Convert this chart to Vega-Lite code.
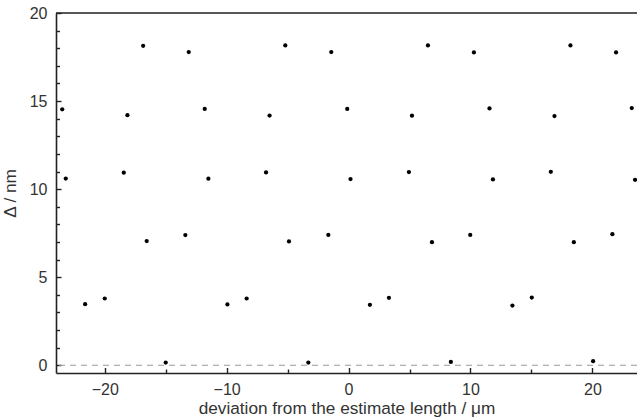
{
  "$schema": "https://vega.github.io/schema/vega-lite/v6.json",
  "width": 581,
  "height": 360,
  "autosize": {"type": "none"},
  "padding": {"left": 56, "top": 13, "right": 0, "bottom": 45},
  "background": "white",
  "config": {
    "view": {"stroke": null},
    "font": "Liberation Sans",
    "axis": {
      "labelFont": "Liberation Sans",
      "titleFont": "Liberation Sans",
      "labelColor": "#333333",
      "titleColor": "#333333",
      "labelFontSize": 16,
      "titleFontSize": 17.2,
      "titleFontWeight": "normal",
      "domainColor": "#222222",
      "domainWidth": 1.6,
      "tickColor": "#222222",
      "tickWidth": 1.4,
      "grid": false,
      "labelOverlap": false,
      "labelBound": false
    }
  },
  "datasets": {
    "pts": [
      {"x": -16.85, "y": 18.14}, {"x": -13.11, "y": 17.78}, {"x": -5.19, "y": 18.16}, {"x": -1.42, "y": 17.78},
      {"x": 6.51, "y": 18.16}, {"x": 10.28, "y": 17.76}, {"x": 18.2, "y": 18.16}, {"x": 21.94, "y": 17.76},
      {"x": -23.49, "y": 14.53}, {"x": -18.14, "y": 14.2}, {"x": -11.8, "y": 14.55}, {"x": -6.48, "y": 14.18},
      {"x": -0.11, "y": 14.55}, {"x": 5.2, "y": 14.17}, {"x": 11.56, "y": 14.58}, {"x": 16.89, "y": 14.15}, {"x": 23.23, "y": 14.6},
      {"x": -23.2, "y": 10.6}, {"x": -18.44, "y": 10.93}, {"x": -11.5, "y": 10.59}, {"x": -6.77, "y": 10.95},
      {"x": 0.16, "y": 10.57}, {"x": 4.95, "y": 10.97}, {"x": 11.84, "y": 10.55}, {"x": 16.59, "y": 10.98}, {"x": 23.5, "y": 10.53},
      {"x": -16.56, "y": 7.05}, {"x": -13.39, "y": 7.39}, {"x": -4.89, "y": 7.03}, {"x": -1.66, "y": 7.4},
      {"x": 6.84, "y": 6.99}, {"x": 9.98, "y": 7.4}, {"x": 18.48, "y": 6.99}, {"x": 21.64, "y": 7.44},
      {"x": -21.61, "y": 3.47}, {"x": -20.0, "y": 3.79}, {"x": -9.94, "y": 3.45}, {"x": -8.36, "y": 3.79},
      {"x": 1.75, "y": 3.43}, {"x": 3.31, "y": 3.83}, {"x": 13.44, "y": 3.39}, {"x": 15.03, "y": 3.84},
      {"x": -15.0, "y": 0.15}, {"x": -3.3, "y": 0.15}, {"x": 8.39, "y": 0.19}, {"x": 20.06, "y": 0.23}
    ],
    "lines": [{"y": 0, "kind": "zero"}, {"y": 20, "kind": "frame"}]
  },
  "encoding": {
    "y": {
      "field": "y", "type": "quantitative",
      "scale": {"domain": [-0.44, 20], "nice": false, "zero": false},
      "axis": {
        "title": "Δ / nm",
        "values": [0, 1, 2, 3, 4, 5, 6, 7, 8, 9, 10, 11, 12, 13, 14, 15, 16, 17, 18, 19, 20],
        "labelExpr": "datum.value % 5 === 0 ? format(datum.value, 'd') : ''",
        "tickSize": {"condition": {"test": "datum.value % 5 === 0", "value": -5}, "value": -3.5},
        "labelPadding": 14,
        "titlePadding": 10
      }
    }
  },
  "layer": [
    {
      "data": {"name": "lines"},
      "mark": {"type": "rule"},
      "encoding": {
        "color": {"field": "kind", "type": "nominal", "scale": {"domain": ["zero", "frame"], "range": ["#999999", "#222222"]}, "legend": null},
        "strokeDash": {"field": "kind", "type": "nominal", "scale": {"domain": ["zero", "frame"], "range": [[6, 5], [1, 0]]}, "legend": null},
        "strokeWidth": {"field": "kind", "type": "nominal", "scale": {"domain": ["zero", "frame"], "range": [1, 1.6]}, "legend": null}
      }
    },
    {
      "data": {"name": "pts"},
      "mark": {"type": "circle", "color": "black", "opacity": 1, "size": 18},
      "encoding": {
        "x": {
          "field": "x", "type": "quantitative",
          "scale": {"domain": [-24, 23.66], "nice": false, "zero": false},
          "axis": {
            "title": "deviation from the estimate length / μm",
            "values": [-20, -15, -10, -5, 0, 5, 10, 15, 20],
            "labelExpr": "datum.value % 10 === 0 ? replace(format(datum.value, 'd'), '-', '−') : ''",
            "tickSize": {"condition": {"test": "datum.value % 10 === 0", "value": -5.5}, "value": -4},
            "labelPadding": 14,
            "titleBaseline": "alphabetic",
            "titleY": 40
          }
        }
      }
    }
  ]
}
